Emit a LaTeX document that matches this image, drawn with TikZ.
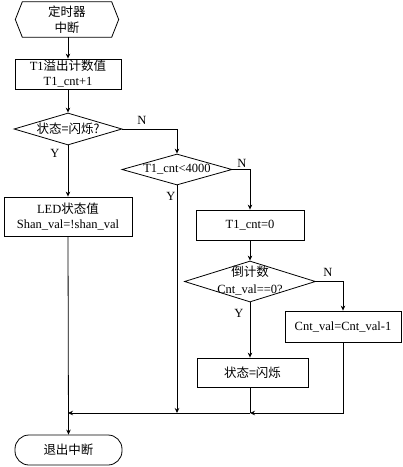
\documentclass[tikz,border=0pt]{standalone}
\usepackage{fontspec}
\setmainfont{Liberation Serif}
\newfontfamily\cjkf{Noto Sans CJK SC}
\newcommand\zhtext[1]{{\cjkf #1}}
\usetikzlibrary{arrows.meta,shapes.geometric,shapes.misc}
\begin{document}
\begin{tikzpicture}[x=1pt,y=-1pt,
  every node/.style={font=\fontsize{12.5}{15}\selectfont},
  box/.style={draw, line width=0.8pt, inner sep=0pt, align=center},
  dia/.style={draw, diamond, line width=0.8pt, inner sep=0pt},
  hexa/.style={rectangle, inner sep=0pt, align=center},
  term/.style={draw, rounded corners=14pt, line width=0.8pt, inner sep=0pt},
  line/.style={line width=0.8pt},
  arr/.style={line width=0.8pt, -{Stealth[length=5pt,width=4.5pt]}},
  lbl/.style={inner sep=0pt}]
\useasboundingbox (0,0) rectangle (403,467);

\node[hexa, minimum width=103pt, minimum height=35pt] (start) at (67,19.5) {\zhtext{定时器}\\[1pt]\zhtext{中断}};
\draw[line] ([xshift=7pt]start.north west) -- ([xshift=-7pt]start.north east) -- (start.east)
  -- ([xshift=-7pt]start.south east) -- ([xshift=7pt]start.south west) -- (start.west) -- cycle;
\node[box, minimum width=106pt, minimum height=30pt] (b1) at (68,74) {T1\zhtext{溢出计数值}\\T1\_cnt+1};
\node[dia, minimum width=108pt, minimum height=32pt] (d1) at (68,129) {};
\node[lbl] (d1t) at (68,129) {\zhtext{状态=闪烁?}};
\node[box, minimum width=128pt, minimum height=39pt] (led) at (68,216.5) {LED\zhtext{状态值}\\Shan\_val=!shan\_val};
\node[dia, minimum width=110pt, minimum height=31pt] (d2) at (177,169.5) {};
\node[lbl] (d2t) at (177,169.5) {T1\_cnt<4000};
\node[box, minimum width=108pt, minimum height=30pt] (b2) at (250,225) {T1\_cnt=0};
\node[dia, minimum width=131pt, minimum height=41pt] (d3) at (250,281.5) {};
\node[lbl, align=center] (d3t) at (250,281) {\zhtext{倒计数}\\[2pt]Cnt\_val==0?};
\node[box, minimum width=116pt, minimum height=31pt] (b3) at (343,326.5) {Cnt\_val=Cnt\_val-1};
\node[box, minimum width=111pt, minimum height=29pt] (b4) at (252.5,372.5) {\zhtext{状态=闪烁}};
\node[term, minimum width=107pt, minimum height=30pt] (end) at (68.5,450) {\zhtext{退出中断}};

\coordinate (m1) at (177,413);
\coordinate (m2) at (250,413);
\coordinate (m3) at (68,413);

\draw[arr] (start.south -| b1.north) -- (b1.north);
\draw[arr] (b1.south) -- (d1.north);
\draw[arr] (d1.east) -| (d2.north);
\draw[arr] (d1.south) -- (led.north);
\draw[arr] (d2.east) -| (b2.north);
\draw[arr] (d2.south) -- (m1);
\draw[arr] (b2.south) -- (d3.north);
\draw[arr] (d3.east) -| (b3.north);
\draw[arr] (d3.south) -- (d3.south |- b4.north);
\draw[arr] (b3.south) |- (m2);
\draw[line] (d3.south |- b4.south) -- (m2);
\draw[arr] (m2) -- (m3);
\draw[arr] (led.south) -- (end.north);

\node[lbl] (n1) at (142,120) {N};
\node[lbl] (y1) at (55,153) {Y};
\node[lbl] (n2) at (242,163) {N};
\node[lbl] (y2) at (171,196) {Y};
\node[lbl] (n3) at (328,272) {N};
\node[lbl] (y3) at (239,313) {Y};
\end{tikzpicture}
\end{document}
